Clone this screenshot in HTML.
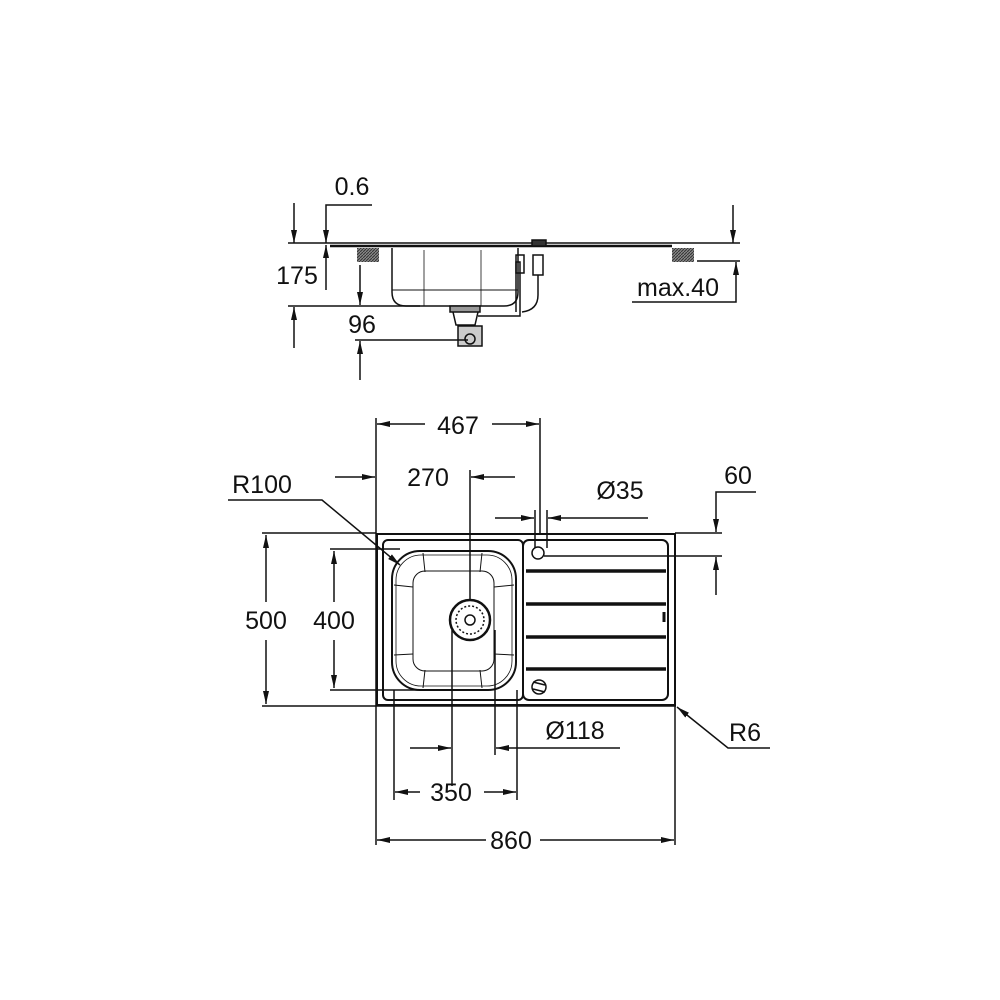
<!DOCTYPE html>
<html><head><meta charset="utf-8"><style>
html,body{margin:0;padding:0;background:#fff}
svg{display:block}
text{font-family:"Liberation Sans",Arial,sans-serif;font-size:25px;fill:#111}
</style></head><body>
<svg width="1000" height="1000" viewBox="0 0 1000 1000" xmlns="http://www.w3.org/2000/svg">
<defs>
<marker id="a" markerWidth="14" markerHeight="8" refX="13" refY="4" orient="auto" markerUnits="userSpaceOnUse">
<path d="M0,1 L13,4 L0,7 Z" fill="#111"/></marker>
<pattern id="h" width="3" height="3" patternUnits="userSpaceOnUse"><rect width="3" height="3" fill="#888"/><path d="M0,3 L3,0" stroke="#333" stroke-width="1"/></pattern>
</defs>
<g stroke="#111" stroke-width="1.5" fill="none">
<!-- ===== SIDE VIEW ===== -->
<line x1="288" y1="243" x2="740" y2="243"/>
<line x1="330" y1="246" x2="672" y2="246" stroke-width="2.5"/>
<rect x="357" y="248" width="22" height="14" fill="url(#h)" stroke="none"/>
<rect x="672" y="248" width="22" height="14" fill="url(#h)" stroke="none"/>
<line x1="697" y1="261" x2="740" y2="261"/>
<path d="M392,248 L392,292 Q392,306 406,306 L504,306 Q518,306 518,292 L518,248"/>
<line x1="392" y1="290" x2="518" y2="290" stroke-width="1"/>
<line x1="424" y1="250" x2="424" y2="306" stroke-width="0.8"/>
<line x1="481" y1="250" x2="481" y2="306" stroke-width="0.8"/>
<rect x="450" y="306" width="30" height="6" fill="#999"/>
<path d="M453,312 L456,325 L475,325 L478,312"/>
<rect x="458" y="326" width="24" height="20" fill="#ccc"/>
<circle cx="470" cy="339" r="5"/>
<path d="M478,316 L520,316 L520,262 L516,262 L516,312"/>
<rect x="516" y="255" width="8" height="18"/>
<rect x="532" y="240" width="14" height="6" fill="#333"/>
<rect x="533" y="255" width="10" height="20"/>
<path d="M538,275 L538,295 Q538,310 522,312"/>
<!-- side dims -->
<line x1="294" y1="203" x2="294" y2="243" marker-end="url(#a)"/>
<line x1="294" y1="348" x2="294" y2="307" marker-end="url(#a)"/>
<line x1="288" y1="306" x2="420" y2="306"/>
<polyline points="372,205 326,205 326,243" marker-end="url(#a)"/>
<line x1="326" y1="290" x2="326" y2="245" marker-end="url(#a)"/>
<line x1="360" y1="265" x2="360" y2="305" marker-end="url(#a)"/>
<line x1="360" y1="380" x2="360" y2="341" marker-end="url(#a)"/>
<line x1="355" y1="340" x2="468" y2="340"/>
<line x1="733" y1="205" x2="733" y2="243" marker-end="url(#a)"/>
<polyline points="632,302 736,302 736,262" marker-end="url(#a)"/>
<!-- ===== PLAN VIEW ===== -->
<rect x="377" y="534" width="298" height="171" stroke-width="2"/>
<rect x="383" y="540" width="140" height="160" rx="5" stroke-width="2"/>
<rect x="523" y="540" width="145" height="160" rx="6" stroke-width="2"/>
<g stroke-width="3.5">
<line x1="526" y1="571" x2="666" y2="571"/>
<line x1="526" y1="604" x2="666" y2="604"/>
<line x1="526" y1="637" x2="666" y2="637"/>
<line x1="526" y1="669" x2="666" y2="669"/>
</g>
<path d="M664,612 L664,622" stroke-width="3"/>
<rect x="392" y="551" width="124" height="139" rx="28" stroke-width="2"/>
<rect x="396" y="555" width="116" height="131" rx="25" stroke-width="0.8"/>
<rect x="413" y="571" width="81" height="100" rx="12" stroke-width="1"/>
<g stroke-width="1">
<line x1="423" y1="553" x2="425" y2="572"/><line x1="482" y1="553" x2="480" y2="572"/>
<line x1="423" y1="688" x2="425" y2="670"/><line x1="482" y1="688" x2="480" y2="670"/>
<line x1="394" y1="585" x2="413" y2="587"/><line x1="394" y1="655" x2="413" y2="654"/>
<line x1="514" y1="585" x2="494" y2="587"/><line x1="514" y1="655" x2="494" y2="654"/>
</g>
<circle cx="470" cy="620" r="20" stroke-width="2.5"/>
<circle cx="470" cy="620" r="14" stroke-dasharray="2 2"/>
<circle cx="470" cy="620" r="5"/>
<circle cx="538" cy="553" r="6"/>
<circle cx="539" cy="687" r="7"/>
<line x1="533" y1="682" x2="545" y2="685"/><line x1="533" y1="689" x2="545" y2="692"/>
<!-- 467 -->
<line x1="376" y1="418" x2="376" y2="845"/>
<line x1="540" y1="418" x2="540" y2="533"/>
<line x1="425" y1="424" x2="377" y2="424" marker-end="url(#a)"/>
<line x1="492" y1="424" x2="539" y2="424" marker-end="url(#a)"/>
<!-- 270 -->
<line x1="335" y1="477" x2="375" y2="477" marker-end="url(#a)"/>
<line x1="515" y1="477" x2="471" y2="477" marker-end="url(#a)"/>
<line x1="470" y1="470" x2="470" y2="600"/>
<!-- R100 -->
<polyline points="228,500 322,500 400,565" marker-end="url(#a)"/>
<!-- Ø35 -->
<line x1="535" y1="510" x2="535" y2="548"/>
<line x1="547" y1="510" x2="547" y2="548"/>
<line x1="495" y1="518" x2="534" y2="518" marker-end="url(#a)"/>
<line x1="648" y1="518" x2="548" y2="518" marker-end="url(#a)"/>
<!-- 60 -->
<polyline points="756,492 716,492 716,532" marker-end="url(#a)"/>
<line x1="675" y1="533" x2="722" y2="533"/>
<line x1="544" y1="556" x2="722" y2="556"/>
<line x1="716" y1="595" x2="716" y2="557" marker-end="url(#a)"/>
<!-- 500 -->
<line x1="262" y1="533" x2="376" y2="533"/>
<line x1="262" y1="706" x2="676" y2="706"/>
<line x1="266" y1="602" x2="266" y2="535" marker-end="url(#a)"/>
<line x1="266" y1="640" x2="266" y2="704" marker-end="url(#a)"/>
<!-- 400 -->
<line x1="330" y1="549" x2="400" y2="549"/>
<line x1="330" y1="690" x2="460" y2="690"/>
<line x1="334" y1="602" x2="334" y2="551" marker-end="url(#a)"/>
<line x1="334" y1="640" x2="334" y2="688" marker-end="url(#a)"/>
<!-- Ø118 -->
<line x1="452" y1="630" x2="452" y2="786"/>
<line x1="495" y1="630" x2="495" y2="755"/>
<line x1="410" y1="748" x2="451" y2="748" marker-end="url(#a)"/>
<line x1="620" y1="748" x2="496" y2="748" marker-end="url(#a)"/>
<!-- 350 -->
<line x1="394" y1="690" x2="394" y2="800"/>
<line x1="517" y1="690" x2="517" y2="800"/>
<line x1="420" y1="792" x2="395" y2="792" marker-end="url(#a)"/>
<line x1="484" y1="792" x2="516" y2="792" marker-end="url(#a)"/>
<!-- 860 -->
<line x1="675" y1="706" x2="675" y2="845"/>
<line x1="486" y1="840" x2="377" y2="840" marker-end="url(#a)"/>
<line x1="540" y1="840" x2="674" y2="840" marker-end="url(#a)"/>
<!-- R6 -->
<polyline points="770,748 728,748 677,707" marker-end="url(#a)"/>
</g>
<text x="352" y="195" text-anchor="middle">0.6</text>
<text x="297" y="284" text-anchor="middle">175</text>
<text x="362" y="333" text-anchor="middle">96</text>
<text x="678" y="296" text-anchor="middle">max.40</text>
<text x="458" y="434" text-anchor="middle">467</text>
<text x="428" y="486" text-anchor="middle">270</text>
<text x="262" y="493" text-anchor="middle">R100</text>
<text x="620" y="499" text-anchor="middle">Ø35</text>
<text x="738" y="484" text-anchor="middle">60</text>
<text x="266" y="629" text-anchor="middle">500</text>
<text x="334" y="629" text-anchor="middle">400</text>
<text x="575" y="739" text-anchor="middle">Ø118</text>
<text x="451" y="801" text-anchor="middle">350</text>
<text x="511" y="849" text-anchor="middle">860</text>
<text x="745" y="741" text-anchor="middle">R6</text>
</svg>
</body></html>
